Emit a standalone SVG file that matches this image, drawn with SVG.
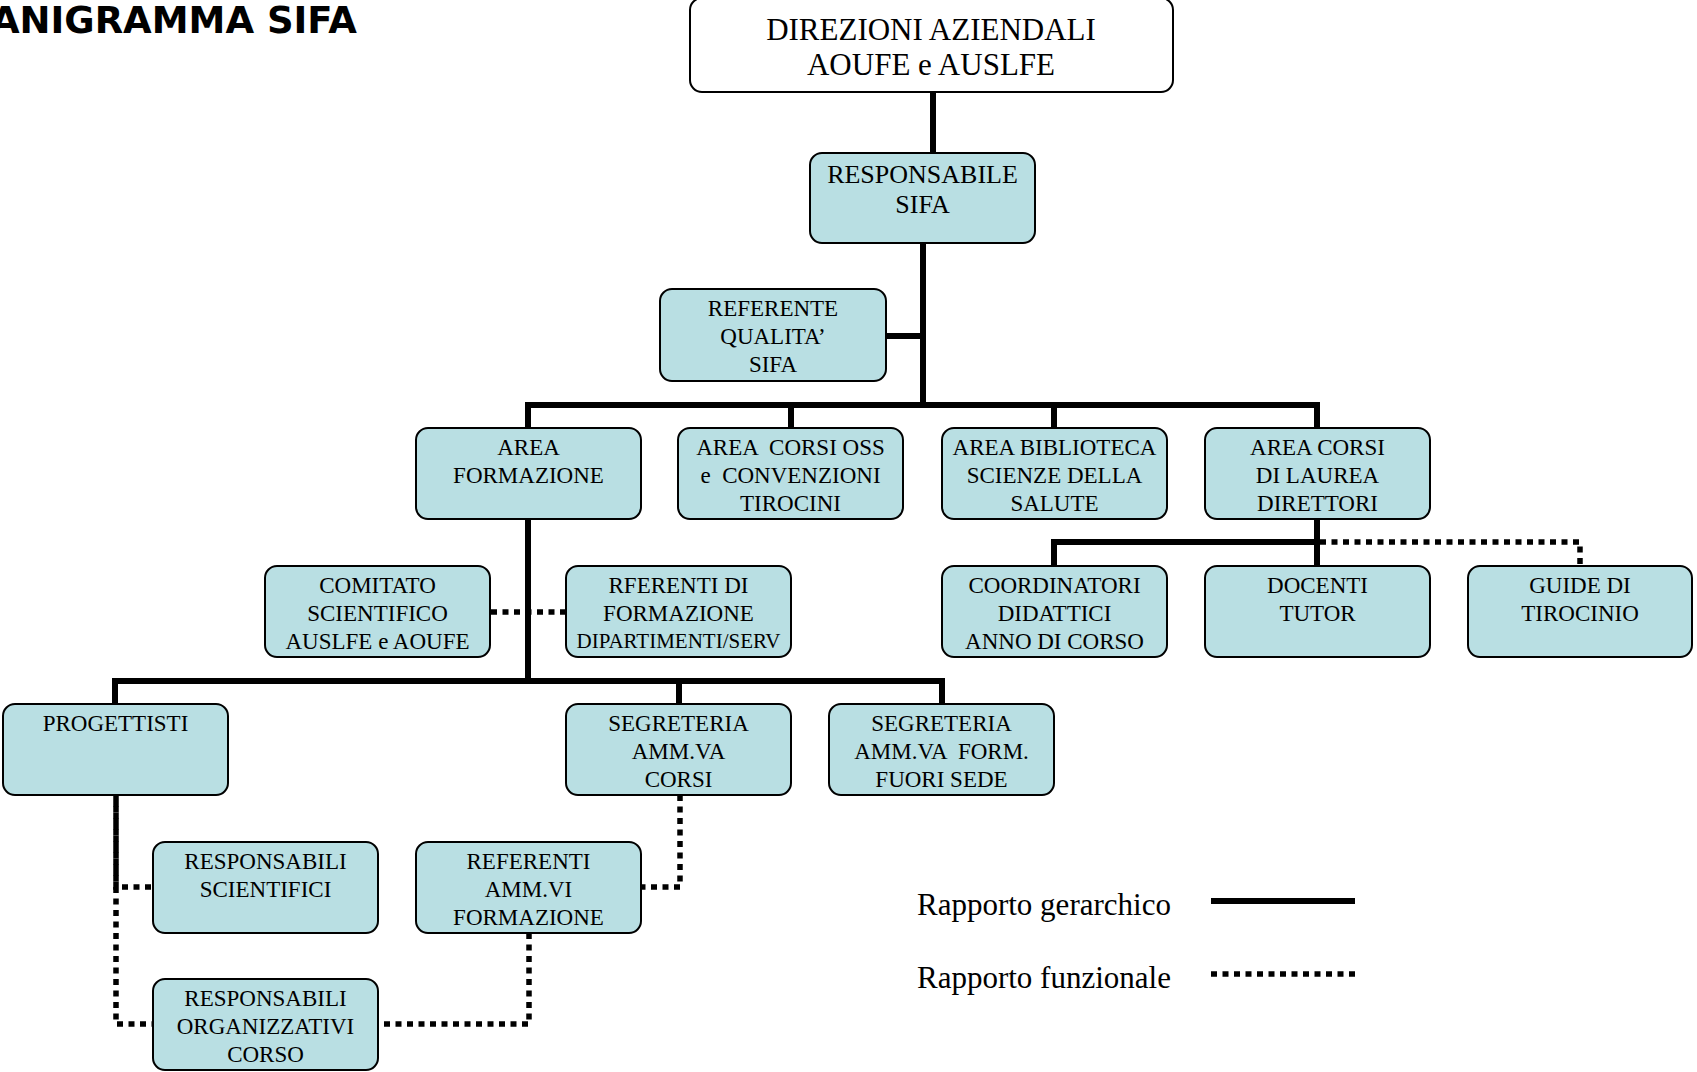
<svg xmlns="http://www.w3.org/2000/svg" width="1697" height="1072" viewBox="0 0 1697 1072">
<style>
.box{fill:#B9DFE3;stroke:#000;stroke-width:2}
.wbox{fill:#fff;stroke:#000;stroke-width:2}
.t{font-family:"Liberation Serif","Times New Roman",serif;font-size:23px;fill:#000;text-anchor:middle}
.solid{fill:none;stroke:#000;stroke-width:6}
.dot{fill:none;stroke:#000;stroke-width:5.5;stroke-dasharray:6 5.5}
.leg{font-family:"Liberation Serif","Times New Roman",serif;font-size:31px;fill:#000}
.title{font-family:"DejaVu Sans",Verdana,sans-serif;font-weight:bold;font-size:37px;fill:#000;text-anchor:end}
</style>
<rect width="1697" height="1072" fill="#fff"/>
<text class="title" x="357" y="33">ANIGRAMMA SIFA</text>
<g id="connectors">
<path class="solid" d="M933 92V153"/>
<path class="solid" d="M923 243V405"/>
<path class="solid" d="M886 336H923"/>
<path class="solid" d="M525 405H1320"/>
<path class="solid" d="M528 405V428M791 405V428M1054 405V428M1317 405V428"/>
<path class="solid" d="M528 519V681"/>
<path class="solid" d="M112 681H945"/>
<path class="solid" d="M115 681V704M679 681V704M942 681V704"/>
<path class="solid" d="M1317 519V566"/>
<path class="solid" d="M1051 542H1317M1054 542V566"/>
<path class="dot" d="M491 612H566"/>
<path class="dot" d="M1320 542H1580V566"/>
<path class="dot" d="M116 795V1024H153"/>
<path class="dot" d="M116 795V887H153" style="stroke-dashoffset:5.5"/>
<path class="dot" d="M680 795V887H641"/>
<path class="dot" d="M529 933V1024H378"/>
</g>
<g id="n-direzioni"><rect class="wbox" x="690" y="-2" width="483" height="94" rx="12"/>
<text class="t" style="font-size:31px" x="931" y="40">DIREZIONI AZIENDALI</text>
<text class="t" style="font-size:31px" x="931" y="75">AOUFE e AUSLFE</text></g>
<g id="n-responsabile"><rect class="box" x="810" y="153" width="225" height="90" rx="12"/>
<text class="t" style="font-size:26px" x="922.5" y="183">RESPONSABILE</text>
<text class="t" style="font-size:26px" x="922.5" y="213">SIFA</text></g>
<g id="n-referente-qualita"><rect class="box" x="660" y="289" width="226" height="92" rx="12"/>
<text class="t" x="773" y="316">REFERENTE</text>
<text class="t" x="773" y="344">QUALITA’</text>
<text class="t" x="773" y="372">SIFA</text></g>
<g id="n-area-formazione"><rect class="box" x="416" y="428" width="225" height="91" rx="12"/>
<text class="t" x="528.5" y="455">AREA</text>
<text class="t" x="528.5" y="483">FORMAZIONE</text></g>
<g id="n-area-oss"><rect class="box" x="678" y="428" width="225" height="91" rx="12"/>
<text class="t" x="790.5" y="455" xml:space="preserve">AREA  CORSI OSS</text>
<text class="t" x="790.5" y="483" xml:space="preserve">e  CONVENZIONI</text>
<text class="t" x="790.5" y="511">TIROCINI</text></g>
<g id="n-area-biblioteca"><rect class="box" x="942" y="428" width="225" height="91" rx="12"/>
<text class="t" x="1054.5" y="455">AREA BIBLIOTECA</text>
<text class="t" x="1054.5" y="483">SCIENZE DELLA</text>
<text class="t" x="1054.5" y="511">SALUTE</text></g>
<g id="n-area-laurea"><rect class="box" x="1205" y="428" width="225" height="91" rx="12"/>
<text class="t" x="1317.5" y="455">AREA CORSI</text>
<text class="t" x="1317.5" y="483">DI LAUREA</text>
<text class="t" x="1317.5" y="511">DIRETTORI</text></g>
<g id="n-comitato"><rect class="box" x="265" y="566" width="225" height="91" rx="12"/>
<text class="t" x="377.5" y="593">COMITATO</text>
<text class="t" x="377.5" y="621">SCIENTIFICO</text>
<text class="t" x="377.5" y="649">AUSLFE e AOUFE</text></g>
<g id="n-rferenti"><rect class="box" x="566" y="566" width="225" height="91" rx="12"/>
<text class="t" x="678.5" y="593">RFERENTI DI</text>
<text class="t" x="678.5" y="621">FORMAZIONE</text>
<text class="t" style="font-size:21px" x="678.5" y="648">DIPARTIMENTI/SERV</text></g>
<g id="n-coordinatori"><rect class="box" x="942" y="566" width="225" height="91" rx="12"/>
<text class="t" x="1054.5" y="593">COORDINATORI</text>
<text class="t" x="1054.5" y="621">DIDATTICI</text>
<text class="t" x="1054.5" y="649">ANNO DI CORSO</text></g>
<g id="n-docenti"><rect class="box" x="1205" y="566" width="225" height="91" rx="12"/>
<text class="t" x="1317.5" y="593">DOCENTI</text>
<text class="t" x="1317.5" y="621">TUTOR</text></g>
<g id="n-guide"><rect class="box" x="1468" y="566" width="224" height="91" rx="12"/>
<text class="t" x="1580" y="593">GUIDE DI</text>
<text class="t" x="1580" y="621">TIROCINIO</text></g>
<g id="n-progettisti"><rect class="box" x="3" y="704" width="225" height="91" rx="12"/>
<text class="t" x="115.5" y="731">PROGETTISTI</text></g>
<g id="n-segreteria-corsi"><rect class="box" x="566" y="704" width="225" height="91" rx="12"/>
<text class="t" x="678.5" y="731">SEGRETERIA</text>
<text class="t" x="678.5" y="759">AMM.VA</text>
<text class="t" x="678.5" y="787">CORSI</text></g>
<g id="n-segreteria-fuori"><rect class="box" x="829" y="704" width="225" height="91" rx="12"/>
<text class="t" x="941.5" y="731">SEGRETERIA</text>
<text class="t" x="941.5" y="759" xml:space="preserve">AMM.VA  FORM.</text>
<text class="t" x="941.5" y="787">FUORI SEDE</text></g>
<g id="n-resp-scientifici"><rect class="box" x="153" y="842" width="225" height="91" rx="12"/>
<text class="t" x="265.5" y="869">RESPONSABILI</text>
<text class="t" x="265.5" y="897">SCIENTIFICI</text></g>
<g id="n-referenti-amm"><rect class="box" x="416" y="842" width="225" height="91" rx="12"/>
<text class="t" x="528.5" y="869">REFERENTI</text>
<text class="t" x="528.5" y="897">AMM.VI</text>
<text class="t" x="528.5" y="925">FORMAZIONE</text></g>
<g id="n-resp-organizzativi"><rect class="box" x="153" y="979" width="225" height="91" rx="12"/>
<text class="t" x="265.5" y="1006">RESPONSABILI</text>
<text class="t" x="265.5" y="1034">ORGANIZZATIVI</text>
<text class="t" x="265.5" y="1062">CORSO</text></g>
<g id="legend">
<text class="leg" x="917" y="915">Rapporto gerarchico</text>
<text class="leg" x="917" y="988">Rapporto funzionale</text>
<path class="solid" d="M1211 901H1355"/>
<path class="dot" d="M1211 974H1355"/>
</g>
</svg>
